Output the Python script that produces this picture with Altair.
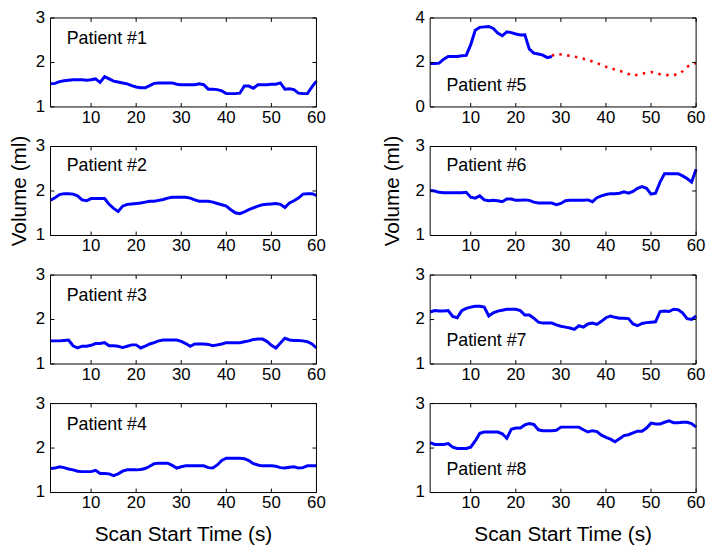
import altair as alt
import pandas as pd

# ---------------- data ----------------
time_s = list(range(1, 61))

patient1 = [1.52, 1.53, 1.57, 1.59, 1.60, 1.61, 1.61, 1.61, 1.60, 1.61,
            1.63, 1.55, 1.68, 1.63, 1.58, 1.56, 1.54, 1.52, 1.48, 1.45,
            1.43, 1.43, 1.48, 1.53, 1.54, 1.54, 1.54, 1.54, 1.51, 1.50,
            1.50, 1.50, 1.50, 1.52, 1.50, 1.40, 1.40, 1.39, 1.36, 1.30,
            1.30, 1.30, 1.31, 1.47, 1.47, 1.42, 1.50, 1.50, 1.50, 1.51,
            1.51, 1.54, 1.40, 1.41, 1.39, 1.31, 1.30, 1.30, 1.45, 1.58]

patient2 = [1.79, 1.85, 1.92, 1.94, 1.94, 1.93, 1.89, 1.80, 1.78, 1.83,
            1.83, 1.83, 1.83, 1.70, 1.61, 1.54, 1.66, 1.70, 1.71, 1.72,
            1.73, 1.75, 1.77, 1.77, 1.79, 1.81, 1.84, 1.86, 1.86, 1.86,
            1.86, 1.84, 1.80, 1.77, 1.77, 1.77, 1.75, 1.72, 1.69, 1.66,
            1.58, 1.51, 1.49, 1.53, 1.58, 1.62, 1.66, 1.69, 1.70, 1.71,
            1.72, 1.70, 1.63, 1.73, 1.78, 1.84, 1.93, 1.94, 1.94, 1.90]

patient3 = [1.52, 1.52, 1.52, 1.53, 1.54, 1.41, 1.36, 1.40, 1.40, 1.42,
            1.46, 1.46, 1.48, 1.41, 1.41, 1.40, 1.37, 1.40, 1.43, 1.43,
            1.36, 1.40, 1.45, 1.48, 1.52, 1.54, 1.54, 1.54, 1.54, 1.51,
            1.46, 1.40, 1.45, 1.45, 1.45, 1.44, 1.41, 1.43, 1.45, 1.48,
            1.48, 1.48, 1.48, 1.50, 1.52, 1.55, 1.56, 1.56, 1.51, 1.42,
            1.36, 1.47, 1.58, 1.54, 1.53, 1.53, 1.52, 1.50, 1.45, 1.36]

patient4 = [1.54, 1.55, 1.58, 1.56, 1.53, 1.51, 1.48, 1.47, 1.47, 1.47,
            1.50, 1.43, 1.43, 1.42, 1.38, 1.42, 1.48, 1.51, 1.51, 1.51,
            1.52, 1.54, 1.59, 1.65, 1.66, 1.66, 1.66, 1.61, 1.55, 1.58,
            1.60, 1.60, 1.60, 1.60, 1.60, 1.56, 1.55, 1.62, 1.72, 1.77,
            1.77, 1.77, 1.77, 1.76, 1.72, 1.65, 1.62, 1.60, 1.60, 1.60,
            1.59, 1.56, 1.55, 1.57, 1.58, 1.55, 1.56, 1.60, 1.60, 1.60]

# patient 5: measured part (solid blue, t = 1..28) and dotted red part (t = 28..60)
patient5_time = list(range(1, 29))
patient5 = [1.95, 1.95, 1.97, 2.15, 2.27, 2.27, 2.27, 2.30, 2.32, 2.80,
            3.45, 3.58, 3.60, 3.62, 3.53, 3.32, 3.20, 3.38, 3.34, 3.28,
            3.24, 3.25, 2.60, 2.42, 2.38, 2.33, 2.22, 2.27]
patient5_dotted_time = list(range(28, 61))
patient5_dotted = [2.30, 2.39, 2.36, 2.33, 2.30, 2.26, 2.22, 2.17, 2.11, 2.04,
                   1.97, 1.89, 1.81, 1.74, 1.68, 1.62, 1.56, 1.48, 1.41, 1.45,
                   1.49, 1.54, 1.57, 1.52, 1.47, 1.44, 1.43, 1.44, 1.46, 1.60,
                   1.80, 1.92, 1.98]

patient6 = [2.01, 2.00, 1.97, 1.96, 1.96, 1.96, 1.96, 1.96, 1.97, 1.86,
            1.84, 1.89, 1.80, 1.78, 1.79, 1.78, 1.76, 1.82, 1.82, 1.79,
            1.79, 1.80, 1.79, 1.75, 1.73, 1.73, 1.73, 1.73, 1.69, 1.72,
            1.78, 1.79, 1.79, 1.79, 1.79, 1.80, 1.76, 1.85, 1.89, 1.92,
            1.94, 1.94, 1.95, 1.98, 1.95, 1.99, 2.06, 2.10, 2.06, 1.93,
            1.95, 2.20, 2.39, 2.39, 2.39, 2.39, 2.34, 2.28, 2.20, 2.49]

patient7 = [2.17, 2.20, 2.19, 2.19, 2.20, 2.07, 2.04, 2.20, 2.25, 2.28,
            2.30, 2.30, 2.28, 2.08, 2.15, 2.19, 2.21, 2.23, 2.23, 2.23,
            2.20, 2.10, 2.10, 2.03, 1.94, 1.92, 1.92, 1.92, 1.88, 1.85,
            1.83, 1.81, 1.78, 1.86, 1.83, 1.90, 1.92, 1.89, 1.96, 2.04,
            2.08, 2.05, 2.03, 2.03, 2.02, 1.90, 1.86, 1.91, 1.93, 1.94,
            1.95, 2.18, 2.19, 2.18, 2.23, 2.22, 2.15, 2.02, 2.00, 2.08]

patient8 = [2.12, 2.08, 2.08, 2.08, 2.10, 2.02, 1.99, 1.99, 1.99, 2.02,
            2.16, 2.33, 2.36, 2.36, 2.36, 2.36, 2.32, 2.22, 2.42, 2.45,
            2.45, 2.52, 2.55, 2.53, 2.41, 2.39, 2.39, 2.39, 2.40, 2.47,
            2.47, 2.47, 2.47, 2.47, 2.41, 2.36, 2.39, 2.37, 2.29, 2.24,
            2.20, 2.14, 2.21, 2.28, 2.30, 2.34, 2.38, 2.38, 2.45, 2.56,
            2.54, 2.54, 2.58, 2.61, 2.57, 2.57, 2.58, 2.58, 2.55, 2.47]

patient_labels = ["Patient #1", "Patient #2", "Patient #3", "Patient #4",
                  "Patient #5", "Patient #6", "Patient #7", "Patient #8"]
label_time = [4.6, 4.6, 4.6, 4.6, 4.6, 4.6, 4.6, 4.6]
label_volume = [2.42, 2.44, 2.42, 2.41, 0.72, 2.45, 1.40, 1.40]

x_ticks = [10, 20, 30, 40, 50, 60]
y_ticks = [1, 2, 3]
y_ticks_p5 = [0, 2, 4]
y_domain = [1, 3]
y_domain_p5 = [0, 4]
x_domain = [1, 60]

x_title = "Scan Start Time (s)"
y_title = "Volume (ml)"

# ---------------- chart ----------------
W, H = 269, 90
TL = 4  # inward tick length (px)
FONT = "Liberation Sans"
BLUE = "#0000ff"
RED = "#ff0000"


def panel(i, lines, ydom, yticks, show_xtitle, ytitle_dx):
    xs = alt.Scale(domain=x_domain, nice=False, zero=False)
    ys = alt.Scale(domain=ydom, nice=False, zero=False)

    def X(f):
        return alt.X(f, type="quantitative", scale=xs, axis=None)

    def Y(f):
        return alt.Y(f, type="quantitative", scale=ys, axis=None)

    layers = []
    for (tt, vv, color, dashed) in lines:
        df = pd.DataFrame({"t": tt, "v": vv})
        if dashed:
            m = alt.Chart(df).mark_line(color=color, strokeWidth=2.6,
                                        strokeDash=[2.5, 5.5])
        else:
            m = alt.Chart(df).mark_line(color=color, strokeWidth=3)
        layers.append(m.encode(x=X("t"), y=Y("v")))

    # patient label
    lab = pd.DataFrame({"t": [label_time[i]], "v": [label_volume[i]],
                        "label": [patient_labels[i]]})
    layers.append(alt.Chart(lab).mark_text(align="left", baseline="alphabetic",
                                           font=FONT, fontSize=18, color="black")
                  .encode(x=X("t"), y=Y("v"), text="label:N"))

    xt_df = pd.DataFrame({"t": x_ticks, "lab": [str(v) for v in x_ticks]})
    yt_df = pd.DataFrame({"v": yticks, "lab": [str(v) for v in yticks]})

    # tick labels
    layers.append(alt.Chart(xt_df).mark_text(align="center", baseline="top",
                                             font=FONT, fontSize=17, color="black")
                  .encode(x=X("t"), y=alt.value(H + 3), text="lab:N"))
    layers.append(alt.Chart(yt_df).mark_text(align="right", baseline="middle",
                                             font=FONT, fontSize=17, color="black")
                  .encode(y=Y("v"), x=alt.value(-5.5), text="lab:N"))

    # axis titles
    if show_xtitle:
        layers.append(alt.Chart(pd.DataFrame({"txt": [x_title]}))
                      .mark_text(align="center", baseline="alphabetic",
                                 font=FONT, fontSize=21, color="black")
                      .encode(x=alt.value(W / 2), y=alt.value(H + 49), text="txt:N"))
    if ytitle_dx is not None:
        layers.append(alt.Chart(pd.DataFrame({"txt": [y_title]}))
                      .mark_text(align="center", baseline="middle", angle=270,
                                 font=FONT, fontSize=21, color="black")
                      .encode(x=alt.value(ytitle_dx), y=alt.value(H / 2), text="txt:N"))

    # inward ticks on all four sides
    layers.append(alt.Chart(xt_df).mark_rule(color="black", strokeWidth=1)
                  .encode(x=X("t"), y=alt.value(H), y2=alt.value(H - TL)))
    layers.append(alt.Chart(xt_df).mark_rule(color="black", strokeWidth=1)
                  .encode(x=X("t"), y=alt.value(0), y2=alt.value(TL)))
    layers.append(alt.Chart(yt_df).mark_rule(color="black", strokeWidth=1)
                  .encode(y=Y("v"), x=alt.value(0), x2=alt.value(TL)))
    layers.append(alt.Chart(yt_df).mark_rule(color="black", strokeWidth=1)
                  .encode(y=Y("v"), x=alt.value(W), x2=alt.value(W - TL)))

    # box
    layers.append(alt.Chart(pd.DataFrame({"b": [0]}))
                  .mark_rect(fillOpacity=0, stroke="black", strokeWidth=1)
                  .encode(x=alt.value(0), x2=alt.value(W),
                          y=alt.value(0), y2=alt.value(H)))

    return alt.layer(*layers).properties(width=W, height=H)


std = [patient1, patient2, patient3, patient4, None, patient6, patient7, patient8]
ytitle_offsets = {1: -31, 5: -38}

panels = {}
for i in [0, 1, 2, 3, 5, 6, 7]:
    panels[i] = panel(i, [(time_s, std[i], BLUE, False)], y_domain, y_ticks,
                      show_xtitle=(i in (3, 7)), ytitle_dx=ytitle_offsets.get(i))
panels[4] = panel(4, [(patient5_time, patient5, BLUE, False),
                      (patient5_dotted_time, patient5_dotted, RED, True)],
                  y_domain_p5, y_ticks_p5, show_xtitle=False, ytitle_dx=None)

order = [0, 4, 1, 5, 2, 6, 3, 7]
chart = alt.concat(*[panels[k] for k in order], columns=2,
                   spacing={"row": 40, "column": 115}, bounds="flush").properties(
    padding={"left": 0, "top": -2, "right": 0, "bottom": 0},
    background="white",
).configure_view(stroke=None)

chart.save("out.html", embed_options={"renderer": "svg", "actions": False})
